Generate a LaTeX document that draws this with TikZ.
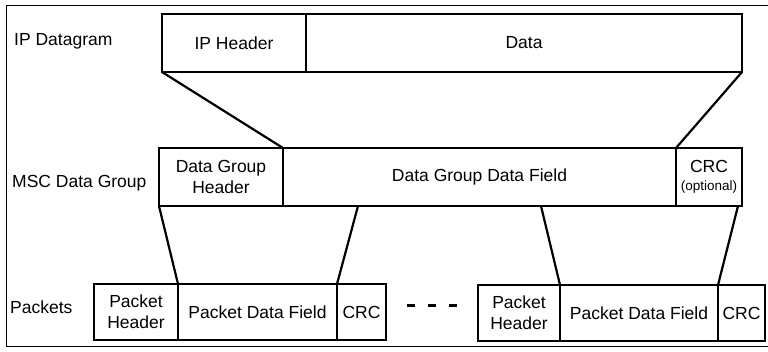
\documentclass[tikz,border=0pt]{standalone}
\usepackage{fontspec}
\setmainfont{Liberation Sans}
\begin{document}
\begin{tikzpicture}[x=1pt,y=-1pt,
  cell/.style={draw, line width=2.6pt, anchor=north west, inner sep=0pt, outer sep=0pt,
    align=center, font=\fontsize{17.5}{21}\selectfont},
  lbl/.style={anchor=base west, inner sep=0pt, font=\fontsize{17.5}{21}\selectfont},
  link/.style={line width=2.2pt},
  frame/.style={line width=0.9pt}]
\useasboundingbox (0,0) rectangle (768,351);
\draw[frame] (768,5) -- (6,5) -- (6,346) -- (768,346);

% labels
\node[lbl] (l1) at (14,45) {IP Datagram};
\node[lbl] (l2) at (12,187) {MSC Data Group};
\node[lbl] (l3) at (10,313) {Packets};

% IP datagram
\node[cell, minimum width=144, minimum height=58] (iph) at (162,14) {IP Header};
\node[cell, minimum width=436, minimum height=58] (data) at (306,14) {Data};

% MSC data group
\node[cell, minimum width=124, minimum height=58] (dgh) at (159,148) {Data Group\\Header};
\node[cell, minimum width=393, minimum height=58] (dgdf) at (283,148) {Data Group Data Field};
\node[cell, minimum width=66, minimum height=58] (dcrc) at (676,148) {CRC\\[-3pt]{\fontsize{13.5}{15}\selectfont (optional)}};

% packets
\node[cell, minimum width=84, minimum height=56] (p1h) at (94,284) {Packet\\Header};
\node[cell, minimum width=159, minimum height=56] (p1d) at (178,284) {Packet Data Field};
\node[cell, minimum width=49, minimum height=56] (p1c) at (337,284) {CRC};

\node[cell, minimum width=82, minimum height=56] (p2h) at (478,285) {Packet\\Header};
\node[cell, minimum width=158, minimum height=56] (p2d) at (560,285) {Packet Data Field};
\node[cell, minimum width=47, minimum height=56] (p2c) at (718,285) {CRC};

% connectors
\coordinate (s1) at (358,206);
\coordinate (s2) at (541,206);
\coordinate (s3) at (738,206);
\draw[link] (iph.south west) -- (dgh.north east);
\draw[link] (data.south east) -- (dcrc.north west);
\draw[link] (dgh.south west) -- (p1h.north east);
\draw[link] (s1) -- (p1d.north east);
\draw[link] (s2) -- (p2h.north east);
\draw[link] (s3) -- (p2d.north east);

% ellipsis dashes
\coordinate (e1) at (407,305);
\coordinate (e2) at (457,305);
\draw[line width=3pt, dash pattern=on 8pt off 13pt] (e1) -- (e2);
\end{tikzpicture}
\end{document}
